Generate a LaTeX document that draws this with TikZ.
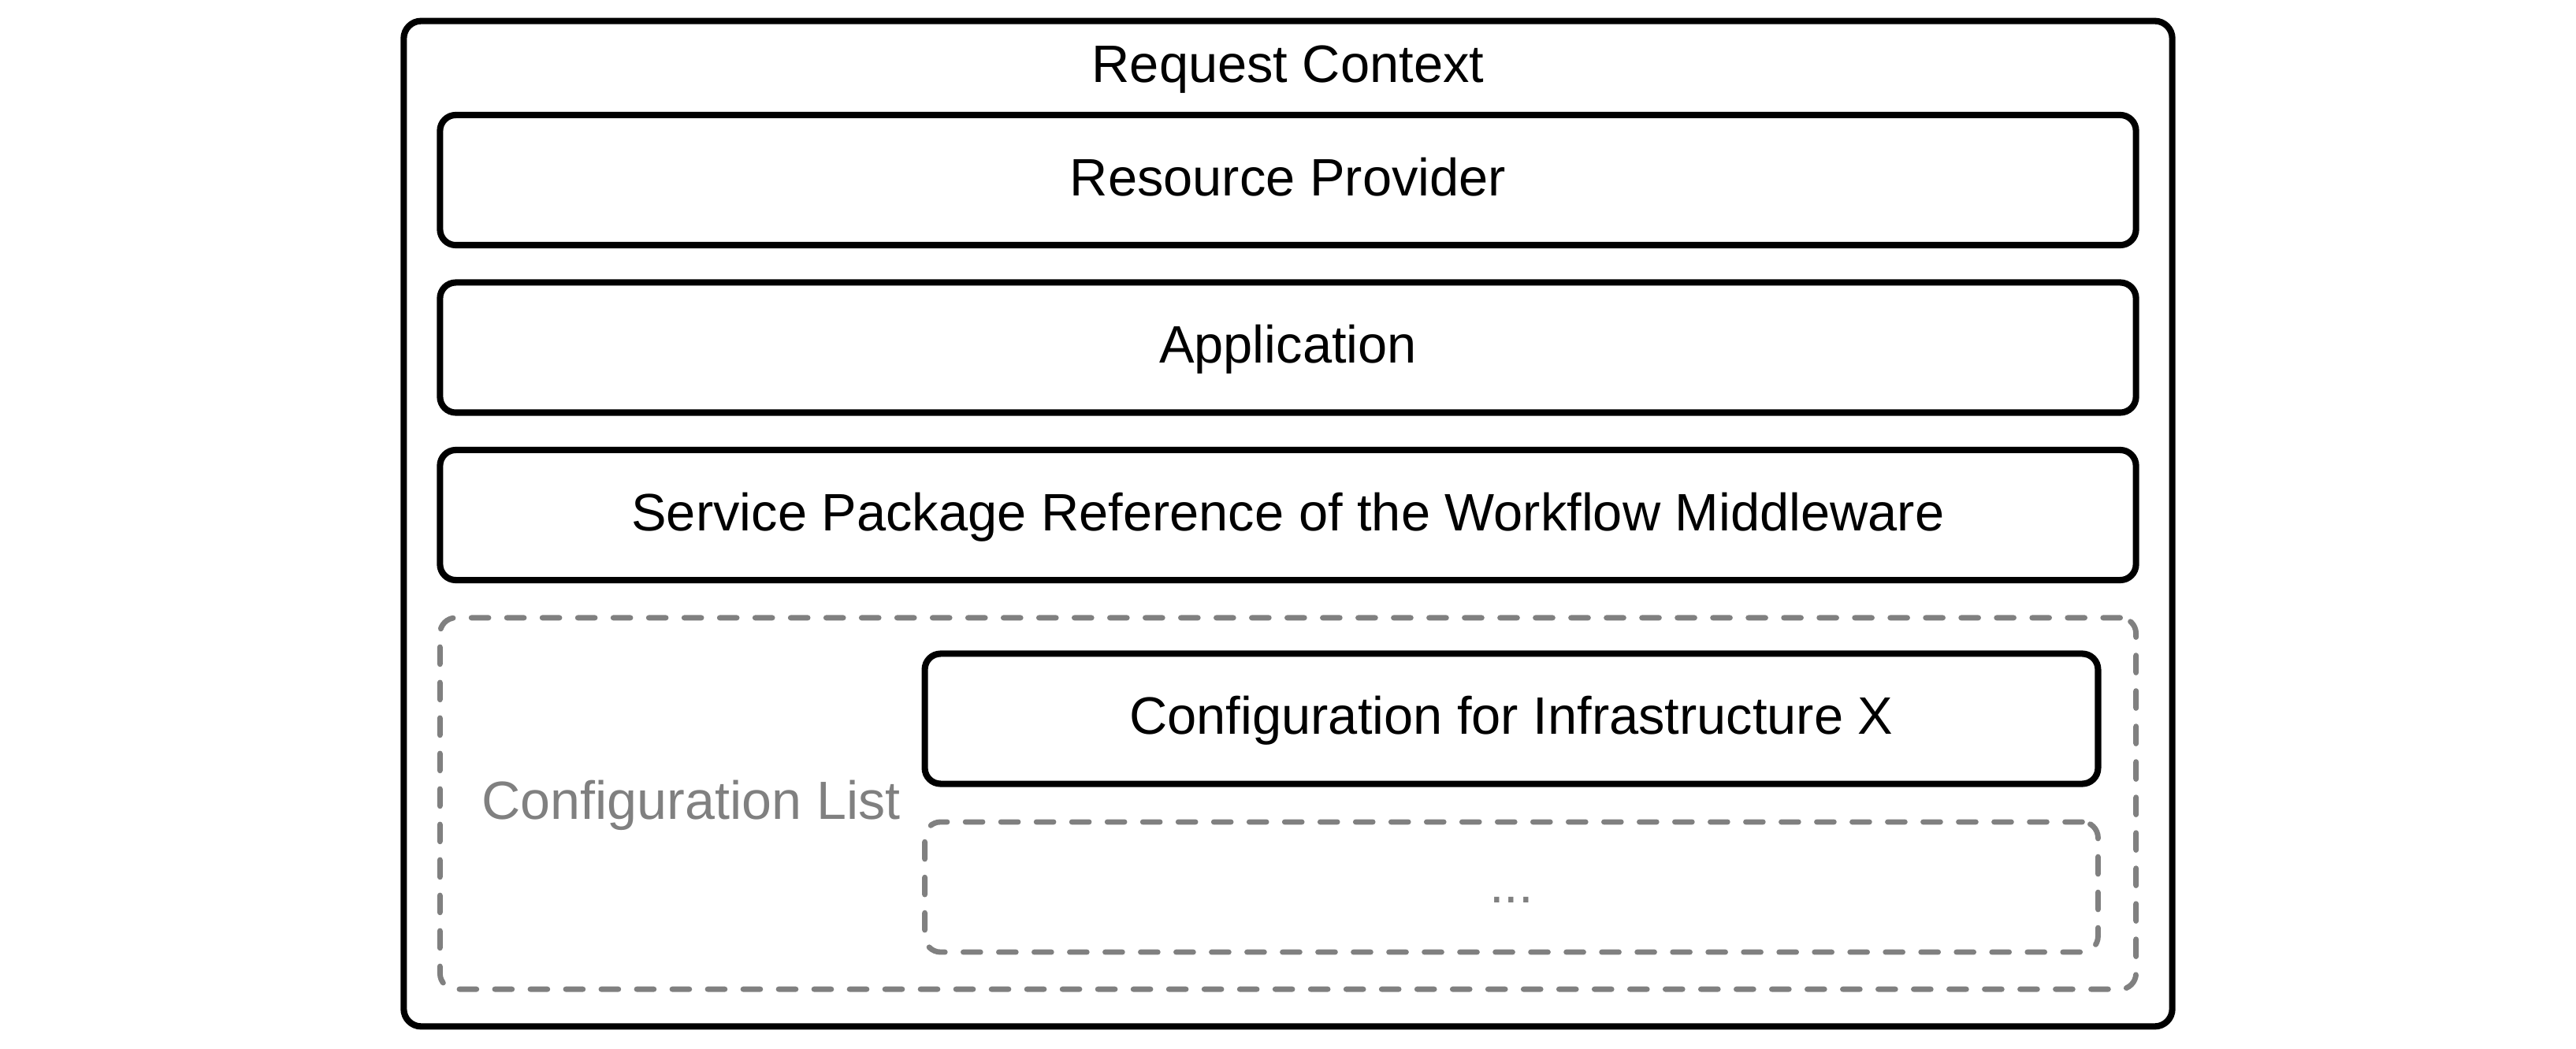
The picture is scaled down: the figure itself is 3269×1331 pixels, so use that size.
\documentclass[tikz,border=0pt]{standalone}
\usepackage{fontspec}
\setmainfont{Liberation Sans}
\definecolor{dgray}{HTML}{808080}
\begin{document}
\begin{tikzpicture}[x=0.01cm,y=-0.01cm,
  solidbox/.style={draw=black, line width=2.3pt, rounded corners=5.7pt, inner sep=0pt,
    font=\fontsize{19}{23}\selectfont, text height=11.1pt, text depth=0pt},
  dashbox/.style={draw=dgray, line width=1.95pt, rounded corners=5.7pt, inner sep=0pt,
    dash pattern=on 6.2pt off 6.6pt, line cap=round,
    font=\fontsize{19}{23}\selectfont, text=dgray, text height=11.1pt, text depth=0pt},
  wide/.style={minimum width=21.51cm, minimum height=1.65cm},
  narrow/.style={minimum width=14.88cm, minimum height=1.65cm},
  lbl/.style={anchor=base, inner sep=0pt, font=\fontsize{19}{23}\selectfont},
  ]
\useasboundingbox (0,0) rectangle (3269,1331);
% outer request context
\node[draw=black, line width=2.3pt, rounded corners=6.3pt, minimum width=22.43cm, minimum height=12.75cm] (outer) at (1634.5,664.5) {};
\node[lbl] (title) at (1634.5,105) {Request Context};
% stacked boxes
\node[solidbox, wide] (rp) at (1634.5,228.5) {Resource Provider};
\node[solidbox, wide] (app) at (1634.5,441) {Application};
\node[solidbox, wide] (spr) at (1634.5,653.5) {Service Package Reference of the Workflow Middleware};
% configuration list
\node[dashbox, minimum width=21.51cm, minimum height=4.71cm] (clist) at (1634.5,1019.5) {};
\node[lbl, text=dgray, font=\fontsize{19.4}{23}\selectfont] (cltext) at (877,1039) {Configuration List};
\node[solidbox, narrow] (cfgx) at (1918,912) {Configuration for Infrastructure X};
\node[dashbox, narrow] (more) at (1918,1125.5) {...};
\end{tikzpicture}
\end{document}
